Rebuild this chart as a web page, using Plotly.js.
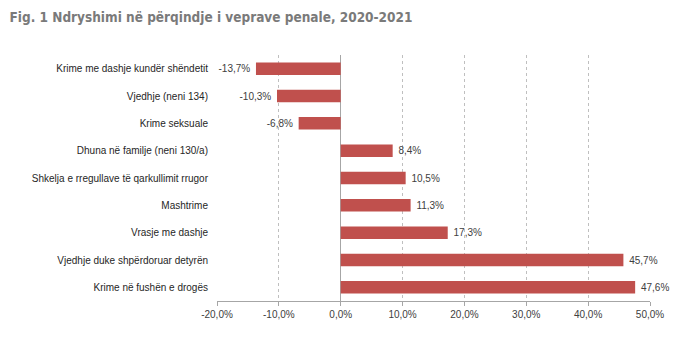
<!DOCTYPE html>
<html><head><meta charset="utf-8">
<script src="https://cdn.plot.ly/plotly-3.0.1.min.js"></script>
<style>html,body{margin:0;padding:0;background:#fff;}#c{width:683px;height:342px;}</style>
</head><body><div id="c"></div>
<script>
const categories = [
  "Krime me dashje kundër shëndetit",
  "Vjedhje (neni 134)",
  "Krime seksuale",
  "Dhuna në familje (neni 130/a)",
  "Shkelja e rregullave të qarkullimit rrugor",
  "Mashtrime",
  "Vrasje me dashje",
  "Vjedhje duke shpërdoruar detyrën",
  "Krime në fushën e drogës"
];
const values = [-13.7, -10.3, -6.8, 8.4, 10.5, 11.3, 17.3, 45.7, 47.6];
const tickVals = [-20, -10, 0, 10, 20, 30, 40, 50];
const tickText = ["-20,0%", "-10,0%", "0,0%", "10,0%", "20,0%", "30,0%", "40,0%", "50,0%"];
const labels = values.map(v => {
  const s = v.toFixed(1).replace('.', ',') + '%';
  return v >= 0 ? '\u00a0' + s : s + '\u00a0';
});

const trace = {
  type: 'bar', orientation: 'h',
  x: values, y: categories,
  marker: {color: '#c0504d'},
  text: labels, textposition: 'outside', cliponaxis: false,
  textfont: {family: 'Liberation Sans, Arial, sans-serif', size: 10, color: '#404040'},
  hoverinfo: 'none'
};
const layout = {
  width: 683, height: 342,
  margin: {l: 217, r: 33, t: 55, b: 41},
  paper_bgcolor: '#fff', plot_bgcolor: '#fff',
  bargap: 0.54,
  showlegend: false,
  title: {text: '<b>Fig. 1 Ndryshimi në përqindje i veprave penale, 2020-2021</b>',
    x: 0.014, xanchor: 'left', y: 0.95, yanchor: 'middle',
    font: {family: 'DejaVu Sans Condensed, Liberation Sans Narrow, Liberation Sans, sans-serif', size: 13.5, weight: 700, color: '#7a7a7a'}},
  xaxis: {
    range: [-20, 50], tickvals: tickVals, ticktext: tickText,
    showgrid: true, gridcolor: '#bfbfbf', griddash: 'dot', gridwidth: 1,
    zeroline: true, zerolinecolor: '#a6a6a6', zerolinewidth: 1,
    showline: true, linecolor: '#a6a6a6', linewidth: 1,
    ticks: 'outside', ticklen: 4, tickcolor: '#a6a6a6',
    tickfont: {family: 'Liberation Sans, Arial, sans-serif', size: 10, color: '#404040'},
    fixedrange: true
  },
  yaxis: {
    autorange: 'reversed', showgrid: false, zeroline: false, showline: false,
    ticks: '', ticklabelstandoff: 8,
    tickfont: {family: 'Liberation Sans, Arial, sans-serif', size: 10, color: '#262626'},
    fixedrange: true
  }
};
Plotly.newPlot('c', [trace], layout, {displayModeBar: false, staticPlot: true});
</script></body></html>
